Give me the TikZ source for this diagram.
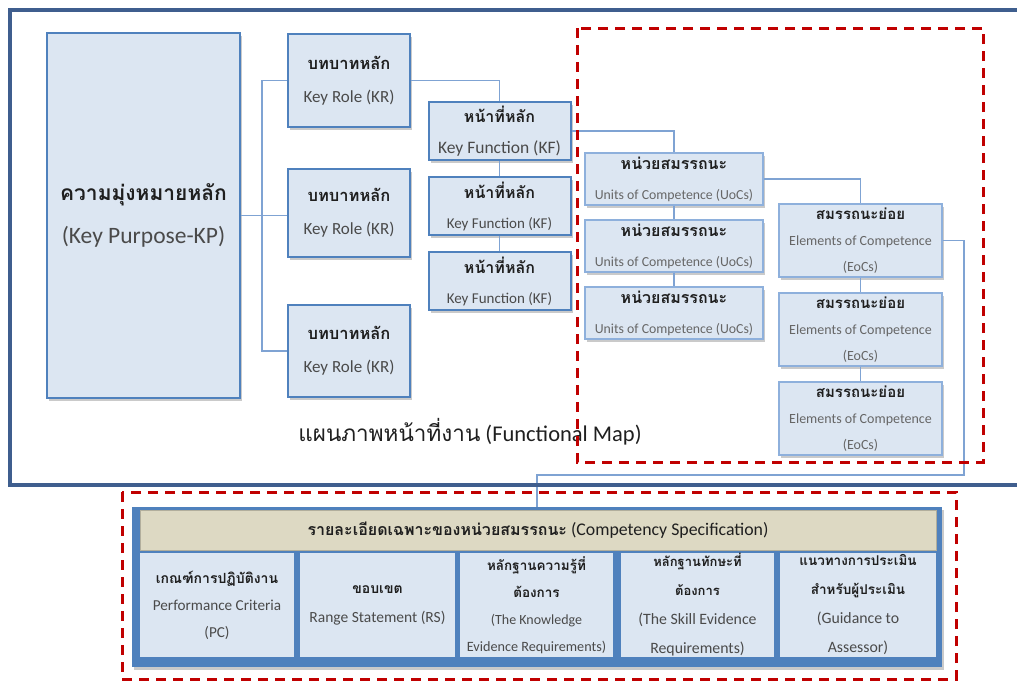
\documentclass[tikz,border=0pt]{standalone}
\usepackage{fontspec}
\setmainfont{Carlito}
\newfontfamily\thai[Script=Thai]{Loma}
\usetikzlibrary{shadows}

\definecolor{boxfill}{HTML}{DCE6F2}
\definecolor{boxline}{HTML}{4F81BD}
\definecolor{softline}{HTML}{8EB0DC}
\definecolor{linkc}{HTML}{7FA3D3}
\definecolor{framec}{HTML}{3F5E8E}
\definecolor{redd}{HTML}{C00000}
\definecolor{headfill}{HTML}{DDD9C3}
\definecolor{thtxt}{HTML}{1F1F1F}
\definecolor{entxt}{HTML}{4A4A4A}
\definecolor{entxtl}{HTML}{666666}

% Thai bold label and grey English label
\newcommand\thb[1]{{\thai\bfseries\color{thtxt}#1}}
\newcommand\thr[1]{{\thai\color{thtxt}#1}}
\newcommand\eng[1]{{\color{entxt}#1}}
\newcommand\engl[1]{{\color{entxtl}#1}}
\newcommand\fsz[1]{\fontsize{#1}{18}\selectfont}

\tikzset{
  shadowed/.style={drop shadow={shadow xshift=2pt, shadow yshift=-2.5pt, opacity=0.35, fill=black!60}},
  mainbox/.style={draw=boxline, line width=2pt, fill=boxfill, shadowed, inner sep=0pt, align=center},
  subbox/.style={draw=softline, line width=1.3pt, fill=boxfill, shadowed, inner sep=0pt, align=center},
  cellbox/.style={fill=boxfill, inner sep=0pt, align=center},
  link/.style={draw=linkc, line width=1.2pt},
  reddash/.style={draw=redd, line width=3pt, dash pattern=on 10pt off 7pt},
}

\begin{document}
\begin{tikzpicture}[x=1pt,y=-1pt]
\useasboundingbox (0,0) rectangle (1017,681);

% ---- functional map ----
\node[mainbox, minimum width=193pt, minimum height=365pt,
      font=\fontsize{21}{43}\selectfont] (KP) at (143.5,215.5)
  {\thb{ความมุ่งหมายหลัก}\\\eng{\fsz{23.5}(Key Purpose-KP)}};

\node[mainbox, minimum width=122pt, minimum height=93pt,
      font=\fontsize{16.5}{33}\selectfont] (KR1) at (349,80.5)
  {\thb{บทบาทหลัก}\\\eng{\fsz{17}Key Role (KR)}};
\node[mainbox, minimum width=122pt, minimum height=88pt,
      font=\fontsize{16.5}{33}\selectfont] (KR2) at (349,213)
  {\thb{บทบาทหลัก}\\\eng{\fsz{17}Key Role (KR)}};
\node[mainbox, minimum width=122pt, minimum height=92pt,
      font=\fontsize{16.5}{33}\selectfont] (KR3) at (349,351)
  {\thb{บทบาทหลัก}\\\eng{\fsz{17}Key Role (KR)}};

\node[mainbox, minimum width=142pt, minimum height=58pt,
      font=\fontsize{16}{31}\selectfont] (KF1) at (499.5,131)
  {\thb{หน้าที่หลัก}\\\eng{\fsz{17.5}Key Function (KF)}};
\node[mainbox, minimum width=142pt, minimum height=58pt,
      font=\fontsize{16}{30}\selectfont] (KF2) at (499.5,206)
  {\thb{หน้าที่หลัก}\\\eng{\fsz{15}Key Function (KF)}};
\node[mainbox, minimum width=142pt, minimum height=58pt,
      font=\fontsize{16}{30}\selectfont] (KF3) at (499.5,281)
  {\thb{หน้าที่หลัก}\\\eng{\fsz{15}Key Function (KF)}};

\node[subbox, minimum width=178pt, minimum height=52pt,
      font=\fontsize{16}{30}\selectfont] (U1) at (674,179)
  {\thb{หน่วยสมรรถนะ}\\\engl{\fsz{13.8}Units of Competence (UoCs)}};
\node[subbox, minimum width=178pt, minimum height=52pt,
      font=\fontsize{16}{30}\selectfont] (U2) at (674,246)
  {\thb{หน่วยสมรรถนะ}\\\engl{\fsz{13.8}Units of Competence (UoCs)}};
\node[subbox, minimum width=178pt, minimum height=52pt,
      font=\fontsize{16}{30}\selectfont] (U3) at (674,313)
  {\thb{หน่วยสมรรถนะ}\\\engl{\fsz{13.8}Units of Competence (UoCs)}};

\node[subbox, minimum width=163pt, minimum height=73pt,
      font=\fontsize{15}{26}\selectfont] (E1) at (860.5,240.5)
  {\thb{สมรรถนะย่อย}\\\engl{\fsz{14}Elements of Competence}\\\engl{\fsz{14}(EoCs)}};
\node[subbox, minimum width=163pt, minimum height=73pt,
      font=\fontsize{15}{26}\selectfont] (E2) at (860.5,329.5)
  {\thb{สมรรถนะย่อย}\\\engl{\fsz{14}Elements of Competence}\\\engl{\fsz{14}(EoCs)}};
\node[subbox, minimum width=163pt, minimum height=73pt,
      font=\fontsize{15}{26}\selectfont] (E3) at (860.5,418.5)
  {\thb{สมรรถนะย่อย}\\\engl{\fsz{14}Elements of Competence}\\\engl{\fsz{14}(EoCs)}};

\node[font=\fontsize{22.5}{26}\selectfont, text=thtxt, inner sep=0pt] (title) at (470,432)
  {\thr{แผนภาพหน้าที่งาน} (Functional Map)};

% ---- connectors ----
\coordinate (bus) at (262,215.5);
\draw[link] (KP.east) -- (KR2.west |- KP.east);
\draw[link] (KR1.west) -| (bus) |- (KR3.west);
\draw[link] (KR1.east) -| (KF1.north);
\draw[link] (KF1.south) -- (KF2.north);
\draw[link] (KF2.south) -- (KF3.north);
\draw[link] (KF1.east) -| (U1.north);
\draw[link] (U1.south) -- (U2.north);
\draw[link] (U2.south) -- (U3.north);
\draw[link] (U1.east) -| (E1.north);
\draw[link] (E1.south) -- (E2.north);
\draw[link] (E2.south) -- (E3.north);

% ---- competency specification ----
\node[fill=boxline, minimum width=810pt, minimum height=160pt, inner sep=0pt,
      shadowed] (spec) at (537,587) {};
\node[fill=headfill, draw=headfill!80!black, line width=0.4pt,
      minimum width=796pt, minimum height=40pt, inner sep=0pt,
      font=\fontsize{17.8}{22}\selectfont, text=thtxt] (head) at (538,530)
  {\thb{\fontsize{16}{22}\selectfont รายละเอียดเฉพาะของหน่วยสมรรถนะ} (Competency Specification)};

\node[cellbox, minimum width=154pt, minimum height=104pt,
      font=\fontsize{14}{27}\selectfont] (PC) at (217,605)
  {\thb{เกณฑ์การปฏิบัติงาน}\\\eng{\fsz{15.2}Performance Criteria}\\\eng{\fsz{15.2}(PC)}};
\node[cellbox, minimum width=155pt, minimum height=104pt,
      font=\fontsize{14}{29}\selectfont] (RS) at (377.5,605)
  {\thb{ขอบเขต}\\\eng{\fsz{15.5}Range Statement (RS)}};
\node[cellbox, minimum width=153pt, minimum height=104pt,
      font=\fontsize{13.5}{27}\selectfont] (KN) at (536.5,605)
  {\thb{หลักฐานความรู้ที่}\\\thb{ต้องการ}\\\eng{\fsz{14}(The Knowledge}\\\eng{\fsz{14.2}Evidence Requirements)}};
\node[cellbox, minimum width=153pt, minimum height=104pt,
      font=\fontsize{13}{29}\selectfont] (SK) at (697.5,605)
  {\thb{หลักฐานทักษะที่}\\\thb{ต้องการ}\\\eng{\fsz{15.8}(The Skill Evidence}\\\eng{\fsz{15.8}Requirements)}};
\node[cellbox, minimum width=156pt, minimum height=104pt,
      font=\fontsize{13.5}{29}\selectfont] (GA) at (858,605)
  {\thb{แนวทางการประเมิน}\\\thb{สำหรับผู้ประเมิน}\\\eng{\fsz{15.8}(Guidance to}\\\eng{\fsz{15.8}Assessor)}};

% link from the elements down to the specification
\coordinate (r1) at (964,240.5);
\coordinate (r2) at (964,475);
\coordinate (r3) at (537,475);
\draw[link] (E1.east) -- (r1) -- (r2) -- (r3) -- (r3 |- spec.north);

% ---- outer frame (open to the right) ----
\draw[framec, line width=4pt] (1017,10) -- (9.5,10) -- (9.5,485) -- (1017,485);

% ---- dashed red groupings ----
\draw[reddash] (577,28) rectangle (983,462);
\draw[reddash] (122,492) rectangle (956,679);
\end{tikzpicture}
\end{document}
